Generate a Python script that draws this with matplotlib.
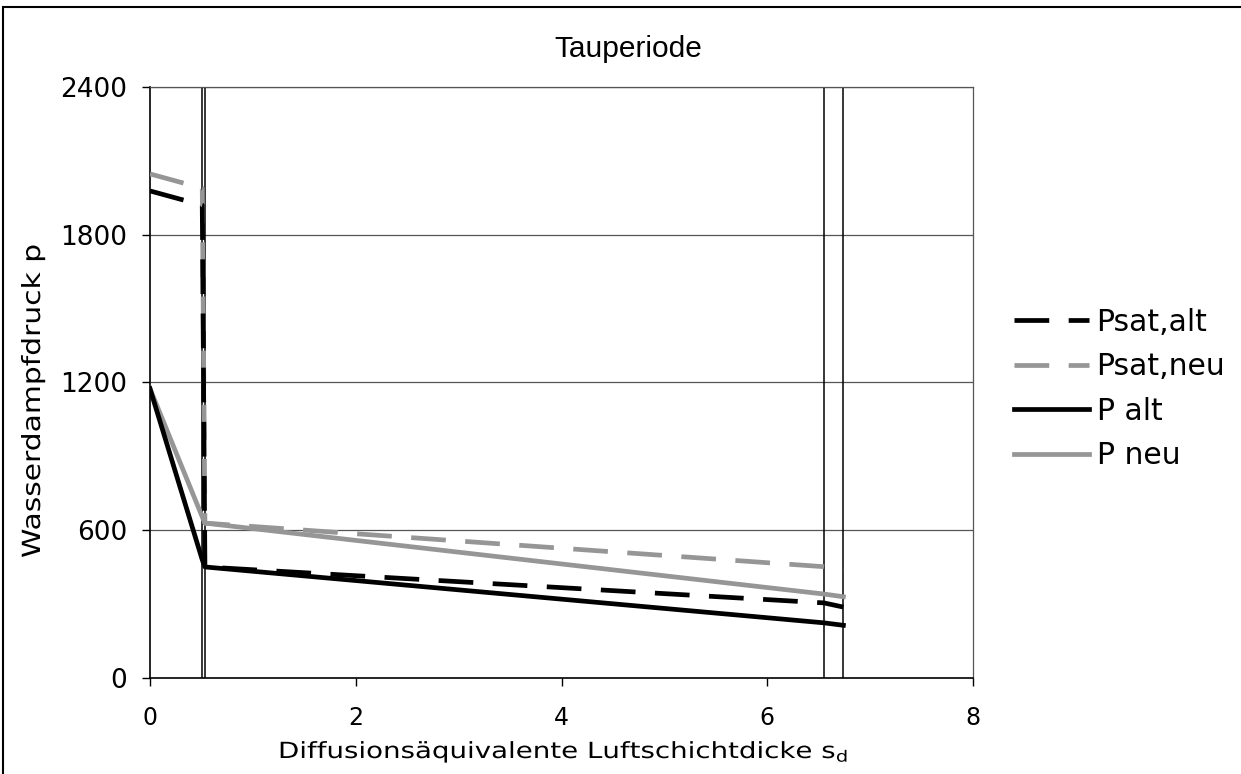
import matplotlib
matplotlib.use("Agg")
import matplotlib.pyplot as plt
from matplotlib.patches import Rectangle
from matplotlib.patheffects import AbstractPathEffect
from matplotlib.transforms import Affine2D

# Data
sd = [0, 0.508, 0.534, 6.55, 6.74]
psat_alt = [1978, 1920, 451, 305, 288]
psat_neu = [2047, 1989, 629, 452, 440]
p_alt = [1175, 480, 451, 224, 214]
p_neu = [1175, 654, 629, 341, 330]
layer_bounds = [0.508, 0.534, 6.55, 6.74]
xticks = [0, 2, 4, 6, 8]
yticks = [0, 600, 1200, 1800, 2400]
labels = ["Psat,alt", "Psat,neu", "P alt", "P neu"]


class StretchX(AbstractPathEffect):
    """Widen text horizontally along its reading direction."""
    def __init__(self, sx):
        super().__init__()
        self.sx = sx

    def draw_path(self, renderer, gc, tpath, affine, rgbFace=None):
        renderer.draw_path(gc, tpath, Affine2D().scale(self.sx, 1) + affine, rgbFace)


W, H = 1241, 774
fig = plt.figure(figsize=(W / 100, H / 100), dpi=100)
ax = fig.add_axes([150 / W, 1 - 678 / H, (973 - 150) / W, (678 - 87) / H])

gray = "#969696"
lw = 3.4
dash = (25 / lw, 14 / lw)

for v in yticks[1:]:
    ax.axhline(v, color="#555555", lw=0.9, zorder=1)
for b in layer_bounds:
    ax.axvline(b, color="black", lw=1.1, zorder=2)

ax.plot(sd, psat_alt, color="black", lw=lw, dashes=dash, label=labels[0], zorder=4)
ax.plot(sd, psat_neu, color=gray, lw=lw, dashes=dash, label=labels[1], zorder=3)
ax.plot(sd, p_alt, color="black", lw=lw, label=labels[2], zorder=4)
ax.plot(sd, p_neu, color=gray, lw=lw, label=labels[3], zorder=3)

ax.set_xlim(0, 8)
ax.set_ylim(0, 2400)
ax.set_xticks(xticks)
ax.set_yticks(yticks)
ax.set_xticklabels([str(t) for t in xticks], fontsize=17)
ax.set_yticklabels([str(t) for t in yticks], fontsize=19)
ax.tick_params(axis="both", direction="out", length=6, width=1.0, color="black")
ax.tick_params(axis="x", pad=14)
ax.tick_params(axis="y", pad=10.5)
for s in ["left", "bottom"]:
    ax.spines[s].set_color("black")
    ax.spines[s].set_linewidth(1.2)
for s in ["top", "right"]:
    ax.spines[s].set_color("#555555")
    ax.spines[s].set_linewidth(0.9)

leg = fig.legend(loc="center left", bbox_to_anchor=(987 / W, 1 - 389 / H),
                 frameon=False, fontsize=21.5, handlelength=2.5, handletextpad=0.27,
                 labelspacing=0.52)

fig.text(628 / W, 1 - 57 / H, "Tauperiode", ha="center", va="baseline",
         fontsize=21.5, family="Liberation Sans")
fig.text(40 / W, 1 - 558 / H, "Wasserdampfdruck p", rotation=90, rotation_mode="anchor",
         ha="left", va="baseline", fontsize=18, path_effects=[StretchX(1.19)])
fig.text(278 / W, 1 - 758 / H, r"Diffusionsäquivalente Luftschichtdicke s$_\mathregular{d}$",
         ha="left", va="baseline", fontsize=16, path_effects=[StretchX(1.245)])

fig.patches.append(Rectangle((3 / W, -0.1), 1.2, 1 - 7 / H + 0.1, transform=fig.transFigure,
                             fill=False, edgecolor="black", lw=1.5))

fig.savefig("out.png", dpi=100)
